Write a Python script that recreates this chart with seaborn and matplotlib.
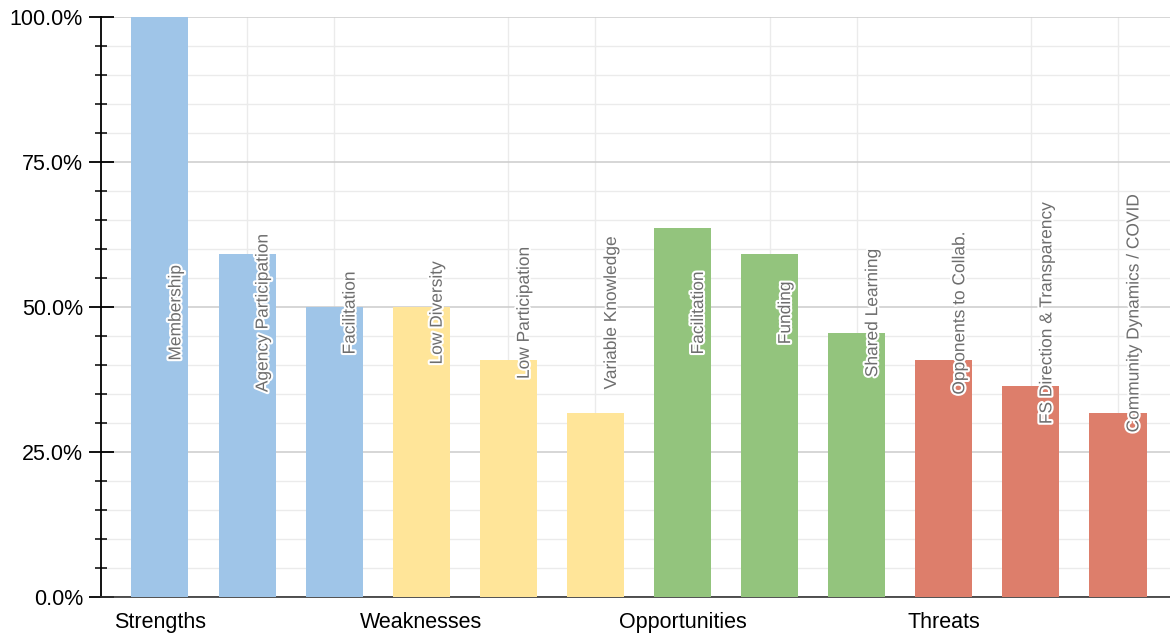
import pandas as pd
import matplotlib.pyplot as plt
import matplotlib.patheffects as pe
from matplotlib.ticker import MultipleLocator, PercentFormatter
import seaborn as sns

# ==================================================
# Datos (22 respuestas -> porcentajes)
# ==================================================
groups = ["Strengths", "Weaknesses", "Opportunities", "Threats"]
items = [
    ["Membership", "Agency Participation", "Facilitation"],
    ["Low Diversity", "Low Participation", "Variable Knowledge"],
    ["Facilitation", "Funding", "Shared Learning"],
    ["Opponents to Collab.", "FS Direction & Transparency", "Community Dynamics / COVID"],
]
values = [
    [100.0, 59.1, 50.0],
    [50.0, 40.9, 31.8],
    [63.6, 59.1, 45.5],
    [40.9, 36.4, 31.8],
]
colors = ["#9fc5e8", "#ffe599", "#93c47d", "#dd7e6b"]

rows = []
for g, labs, vals in zip(groups, items, values):
    for lab, v in zip(labs, vals):
        rows.append({"group": g, "item": lab, "key": f"{g}|{lab}", "value": v / 100})
df = pd.DataFrame(rows)

# ==================================================
# Figura
# ==================================================
sns.set_style("white")
plt.rcParams["font.family"] = ["Liberation Sans", "DejaVu Sans"]

fig = plt.figure(figsize=(11.7, 6.35), dpi=100)
ax = fig.add_axes([101 / 1170, 1 - 597 / 635, 1069 / 1170, 580 / 635])

sns.barplot(data=df, x="key", y="value", hue="group", palette=colors,
            dodge=False, width=0.655, legend=False, ax=ax, zorder=3,
            saturation=1, linewidth=0)

ax.set_xlim(-0.677, 11.597)
ax.set_ylim(0, 1)

# Etiquetas dentro de las barras
for i, lab in enumerate(df["item"]):
    ax.annotate(lab, (i, 0.49), xytext=(11.5, 0), textcoords="offset points",
                rotation=90, ha="center", va="center", fontsize=12.5,
                color="#6e6e6e", zorder=5,
                path_effects=[pe.withStroke(linewidth=3, foreground="white")])

# Ejes y grilla
ax.yaxis.set_major_locator(MultipleLocator(0.25))
ax.yaxis.set_minor_locator(MultipleLocator(0.05))
ax.yaxis.set_major_formatter(PercentFormatter(1.0, decimals=1))
ax.set_xticks([0, 3, 6, 9])
ax.set_xticks(range(12), minor=True)
ax.set_xticklabels(groups)
ax.tick_params(axis="x", which="both", length=0, labelsize=15.5, pad=11,
               labelcolor="black")
ax.tick_params(axis="y", which="major", direction="inout", length=18, width=1.3,
               labelsize=15.5, color="black", labelcolor="black", pad=4, left=True)
ax.tick_params(axis="y", which="minor", direction="inout", length=8, width=1.1,
               color="black", left=True)

ax.grid(axis="y", which="major", color="#cccccc", linewidth=1.1, zorder=0)
ax.grid(axis="y", which="minor", color="#ebebeb", linewidth=1, zorder=0)
ax.grid(axis="x", which="minor", color="#ebebeb", linewidth=1, zorder=0)
ax.set_axisbelow(True)

for s in ["top", "right"]:
    ax.spines[s].set_visible(False)
ax.spines["left"].set_color("black")
ax.spines["left"].set_linewidth(1.3)
ax.spines["bottom"].set_color("#333333")
ax.spines["bottom"].set_linewidth(1.2)
ax.set_xlabel("")
ax.set_ylabel("")

fig.savefig("out.png", dpi=100)
